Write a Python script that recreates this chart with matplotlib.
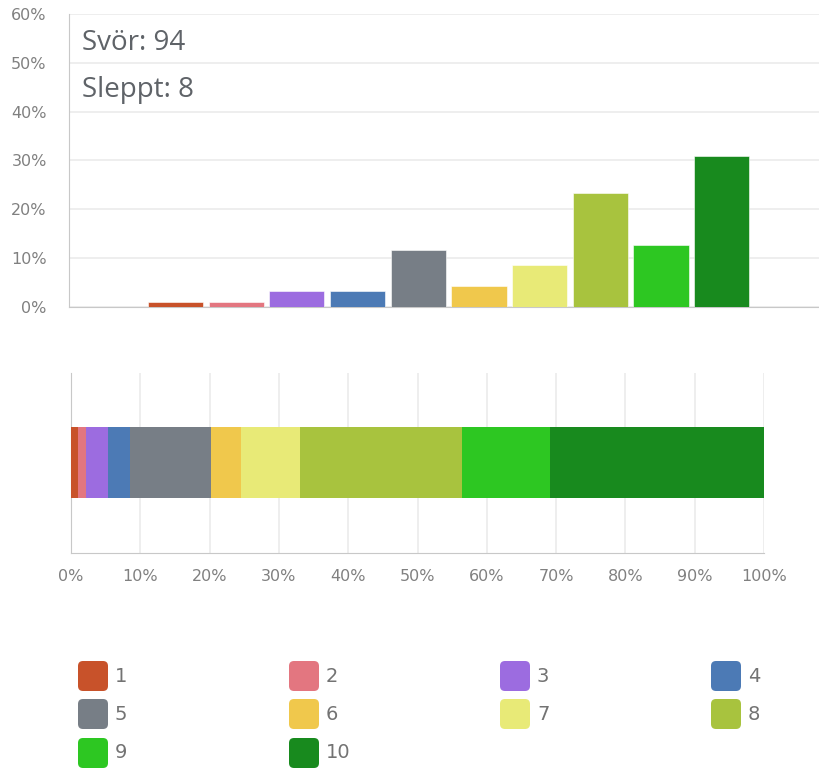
import numpy as np
import matplotlib.pyplot as plt
from matplotlib.patches import FancyBboxPatch
from matplotlib.ticker import PercentFormatter

# Svör per einkunn (1-10), samtals 94
categories = ["1", "2", "3", "4", "5", "6", "7", "8", "9", "10"]
counts = [1, 1, 3, 3, 11, 4, 8, 22, 12, 29]
colors = ["#c8522a", "#e37680", "#9c6ce0", "#4c7ab5", "#777e86",
          "#f0c84c", "#e8ea77", "#a8c33e", "#2dc722", "#188a1e"]
answered = 94
skipped = 8

pct = np.array(counts) / sum(counts) * 100

plt.rcParams['font.family'] = ['DejaVu Sans']
text_gray = "#5f6368"
tick_gray = "#808080"
grid_gray = "#ebebeb"
spine_gray = "#c8c8c8"

fig = plt.figure(figsize=(8.2, 7.68), dpi=100)

# --- column chart ---
ax1 = fig.add_axes([0.0841, 0.6003, 0.9159, 0.3815])
x = np.arange(1, len(categories) + 1)
ax1.bar(x, pct, width=0.91, color=colors, edgecolor="white", linewidth=0.4, zorder=3)
ax1.set_xlim(-0.755, 11.62)
ax1.set_ylim(0, 60)
ax1.set_yticks(range(0, 61, 10))
ax1.yaxis.set_major_formatter(PercentFormatter(decimals=0))
ax1.set_xticks([])
ax1.grid(axis="y", color=grid_gray, linewidth=1.2, zorder=0)
for s in ["top", "right"]:
    ax1.spines[s].set_visible(False)
ax1.spines["left"].set_color(spine_gray)
ax1.spines["bottom"].set_color(spine_gray)
ax1.tick_params(axis="y", length=0, pad=16, labelsize=11.5, labelcolor=tick_gray)
ax1.text(0.017, 0.877, f"Svör: {answered}", transform=ax1.transAxes,
         fontsize=20, color=text_gray, va="baseline", ha="left", family="Open Sans")
ax1.text(0.017, 0.717, f"Sleppt: {skipped}", transform=ax1.transAxes,
         fontsize=20, color=text_gray, va="baseline", ha="left", family="Open Sans")

# --- stacked bar ---
ax2 = fig.add_axes([0.0866, 0.28, 0.8451, 0.2344])
left = 0
for p, c in zip(pct, colors):
    ax2.barh(0, p, left=left, height=0.394, color=c, zorder=3)
    left += p
ax2.set_xlim(0, 100)
ax2.set_ylim(-0.5, 0.5)
ax2.set_xticks(range(0, 101, 10))
ax2.xaxis.set_major_formatter(PercentFormatter(decimals=0))
ax2.set_yticks([])
ax2.grid(axis="x", color=grid_gray, linewidth=1.2, zorder=0)
for s in ["top", "right"]:
    ax2.spines[s].set_visible(False)
ax2.spines["left"].set_color(spine_gray)
ax2.spines["bottom"].set_color(spine_gray)
ax2.tick_params(axis="x", length=0, pad=11.5, labelsize=11.5, labelcolor=tick_gray)

# --- legend ---
axl = fig.add_axes([0, 0, 1, 1], facecolor="none")
axl.set_xlim(0, 820)
axl.set_ylim(768, 0)
axl.axis("off")
col_x = [78, 289, 500, 711]
row_y = [661, 699, 738]
for i, (lab, c) in enumerate(zip(categories, colors)):
    cx = col_x[i % 4]
    cy = row_y[i // 4]
    axl.add_patch(FancyBboxPatch((cx + 3, cy + 3), 24, 24,
                                 boxstyle="round,pad=3,rounding_size=5",
                                 facecolor=c, edgecolor="none"))
    axl.text(cx + 37, cy + 15, lab, fontsize=14, color="#737373",
             va="center", ha="left")

fig.savefig("out.png", dpi=100)
